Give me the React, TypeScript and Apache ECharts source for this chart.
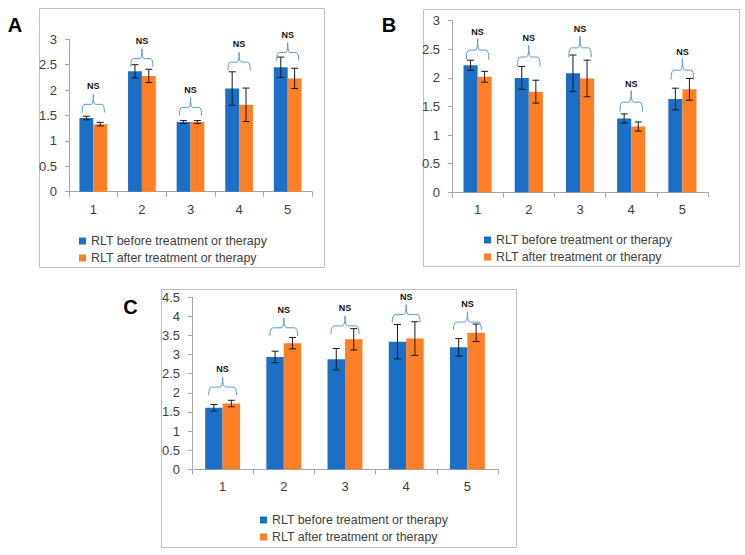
import React, { useEffect, useRef } from 'react';
import * as echarts from 'echarts';

// ---------- data ----------
const categories = ['1', '2', '3', '4', '5'];
const seriesNames = ['RLT before treatment or therapy', 'RLT after treatment or therapy'];
const panelLetters = ['A', 'B', 'C'];
const yMaxes = [3, 3, 4.5];
const significanceLabel = 'NS';

// Panel A
const beforeA = [1.45, 2.37, 1.37, 2.03, 2.45];
const beforeErrA = [0.035, 0.13, 0.03, 0.33, 0.2];
const afterA = [1.33, 2.28, 1.37, 1.71, 2.23];
const afterErrA = [0.035, 0.13, 0.03, 0.33, 0.2];
const braceLevelA = [1.56, 2.46, 1.5, 2.39, 2.58];

// Panel B
const beforeB = [2.22, 2.0, 2.08, 1.29, 1.63];
const beforeErrB = [0.09, 0.2, 0.32, 0.08, 0.19];
const afterB = [2.02, 1.76, 1.99, 1.15, 1.8];
const afterErrB = [0.095, 0.2, 0.32, 0.08, 0.19];
const braceLevelB = [2.32, 2.2, 2.36, 1.41, 1.97];

// Panel C
const beforeC = [1.61, 2.94, 2.88, 3.34, 3.19];
const beforeErrC = [0.085, 0.15, 0.28, 0.45, 0.23];
const afterC = [1.72, 3.3, 3.4, 3.42, 3.57];
const afterErrC = [0.085, 0.15, 0.28, 0.44, 0.23];
const braceLevelC = [1.94, 3.49, 3.54, 3.84, 3.64];

// ---------- styles / layout ----------
const BLUE = '#1C6FC6';
const ORANGE = '#FF7F27';
const BRACE_COLOR = '#5B9BD5';
const AXIS_COLOR = '#A6A6A6';
const TEXT_COLOR = '#404040';
const FONT = 'Liberation Sans, Arial, sans-serif';
const BRACE_PATH = 'M0,40 Q0,22 12,22 L40,22 Q50,22 50,0 Q50,22 60,22 L88,22 Q100,22 100,40';

const panels = [
  {
    before: beforeA, beforeErr: beforeErrA, after: afterA, afterErr: afterErrA, braces: braceLevelA,
    grid: { left: 69, top: 39.3, width: 243, height: 152.4 },
    gap: 0.43, braceH: 18, nsOff: 8,
    box: { x: 39.5, y: 8.5, width: 285, height: 259 },
    letter: { x: 15, y: 25 },
    legend: { left: 79, top: 233.5 },
  },
  {
    before: beforeB, beforeErr: beforeErrB, after: afterB, afterErr: afterErrB, braces: braceLevelB,
    grid: { left: 452, top: 20.7, width: 256, height: 171.6 },
    gap: 0.45, braceH: 21, nsOff: 7,
    box: { x: 423.5, y: 9.5, width: 316, height: 257 },
    letter: { x: 389, y: 25 },
    legend: { left: 484, top: 232.5 },
  },
  {
    before: beforeC, beforeErr: beforeErrC, after: afterC, afterErr: afterErrC, braces: braceLevelC,
    grid: { left: 192, top: 297.3, width: 306, height: 172 },
    gap: 0.43, braceH: 18, nsOff: 8,
    box: { x: 161.5, y: 289.5, width: 355, height: 258 },
    letter: { x: 130.5, y: 306.5 },
    legend: { left: 260, top: 512.5 },
  },
];

function makeErrRender(gap: number) {
  return (params: any, api: any) => {
    const cat = api.value(0);
    const lo = api.value(1);
    const hi = api.value(2);
    const side = api.value(3);
    const band = api.size([1, 0])[0];
    const barW = (band * (1 - gap)) / 2;
    const cx = api.coord([cat, 0])[0] + (side * barW) / 2;
    const yHi = api.coord([cat, hi])[1];
    const yLo = api.coord([cat, lo])[1];
    const cap = 3.5;
    const style = { stroke: '#1a1a1a', lineWidth: 1 };
    return {
      type: 'group',
      children: [
        { type: 'line', shape: { x1: cx, y1: yHi, x2: cx, y2: yLo }, style },
        { type: 'line', shape: { x1: cx - cap, y1: yHi, x2: cx + cap, y2: yHi }, style },
        { type: 'line', shape: { x1: cx - cap, y1: yLo, x2: cx + cap, y2: yLo }, style },
      ],
    };
  };
}

function makeBraceRender(gap: number, braceH: number, nsOff: number) {
  return (params: any, api: any) => {
    const cat = api.value(0);
    const level = api.value(1);
    const p = api.coord([cat, level]);
    const band = api.size([1, 0])[0];
    const w = band * (1 - gap) * 0.8;
    const top = p[1] - braceH;
    return {
      type: 'group',
      children: [
        {
          type: 'path',
          shape: { pathData: BRACE_PATH, x: p[0] - w / 2, y: top, width: w, height: braceH, layout: 'cover' },
          style: { fill: 'none', stroke: BRACE_COLOR, lineWidth: 1 },
        },
        {
          type: 'text',
          x: p[0],
          y: top - nsOff,
          style: {
            text: significanceLabel,
            fontSize: 9,
            fontWeight: 'bold',
            fontFamily: FONT,
            fill: '#111',
            align: 'center',
            verticalAlign: 'middle',
          },
        },
      ],
    };
  };
}

export default function App() {
  const ref = useRef<HTMLDivElement>(null);
  useEffect(() => {
    if (!ref.current) return;
    const chart = echarts.init(ref.current, undefined, { renderer: 'svg' });

    const series: any[] = [];
    panels.forEach((pn, i) => {
      series.push({
        type: 'bar', name: seriesNames[0], xAxisIndex: i, yAxisIndex: i,
        data: pn.before, barGap: '0%', barCategoryGap: `${pn.gap * 100}%`,
        itemStyle: { color: BLUE },
      });
      series.push({
        type: 'bar', name: seriesNames[1], xAxisIndex: i, yAxisIndex: i,
        data: pn.after, barGap: '0%', barCategoryGap: `${pn.gap * 100}%`,
        itemStyle: { color: ORANGE },
      });
      const errData: number[][] = [];
      categories.forEach((_, k) => {
        errData.push([k, pn.before[k] - pn.beforeErr[k], pn.before[k] + pn.beforeErr[k], -1]);
        errData.push([k, pn.after[k] - pn.afterErr[k], pn.after[k] + pn.afterErr[k], 1]);
      });
      series.push({
        type: 'custom', name: `err${i}`, xAxisIndex: i, yAxisIndex: i,
        renderItem: makeErrRender(pn.gap), encode: { x: 0, y: [1, 2] }, data: errData, z: 5,
      });
      series.push({
        type: 'custom', name: `brace${i}`, xAxisIndex: i, yAxisIndex: i,
        renderItem: makeBraceRender(pn.gap, pn.braceH, pn.nsOff), encode: { x: 0, y: 1 },
        data: pn.braces.map((v, k) => [k, v]), z: 6,
      });
    });

    const graphic: any[] = [];
    panels.forEach((pn, i) => {
      graphic.push({
        type: 'rect', shape: pn.box, style: { fill: 'none', stroke: '#BFBFBF', lineWidth: 1 }, z: 0,
      });
      graphic.push({
        type: 'text', x: pn.letter.x, y: pn.letter.y,
        style: {
          text: panelLetters[i], fontSize: 20, fontWeight: 'bold', fontFamily: FONT, fill: '#000',
          align: 'center', verticalAlign: 'middle',
        },
      });
    });

    chart.setOption({
      animation: false,
      backgroundColor: '#fff',
      graphic,
      grid: panels.map((pn) => ({ ...pn.grid, containLabel: false })),
      legend: panels.map((pn) => ({
        data: seriesNames,
        orient: 'vertical',
        left: pn.legend.left,
        top: pn.legend.top,
        padding: 0,
        itemWidth: 7,
        itemHeight: 7,
        itemGap: 2,
        icon: 'rect',
        selectedMode: false,
        textStyle: { fontSize: 12.4, fontFamily: FONT, color: TEXT_COLOR, lineHeight: 15 },
      })),
      xAxis: panels.map((_, i) => ({
        type: 'category', gridIndex: i, data: categories,
        axisLine: { lineStyle: { color: AXIS_COLOR } },
        axisTick: { show: true, length: 5, lineStyle: { color: AXIS_COLOR } },
        axisLabel: { color: TEXT_COLOR, fontSize: 13, fontFamily: FONT, margin: 11 },
      })),
      yAxis: panels.map((_, i) => ({
        type: 'value', gridIndex: i, min: 0, max: yMaxes[i], interval: 0.5,
        splitLine: { show: false },
        axisLine: { show: true, lineStyle: { color: AXIS_COLOR } },
        axisTick: { show: true, length: 4, lineStyle: { color: AXIS_COLOR } },
        axisLabel: { color: TEXT_COLOR, fontSize: 13, fontFamily: FONT, margin: 12 },
      })),
      series,
    });
    return () => chart.dispose();
  }, []);
  return <div ref={ref} style={{ position: 'absolute', left: 0, top: 0, width: 745, height: 555 }} />;
}
